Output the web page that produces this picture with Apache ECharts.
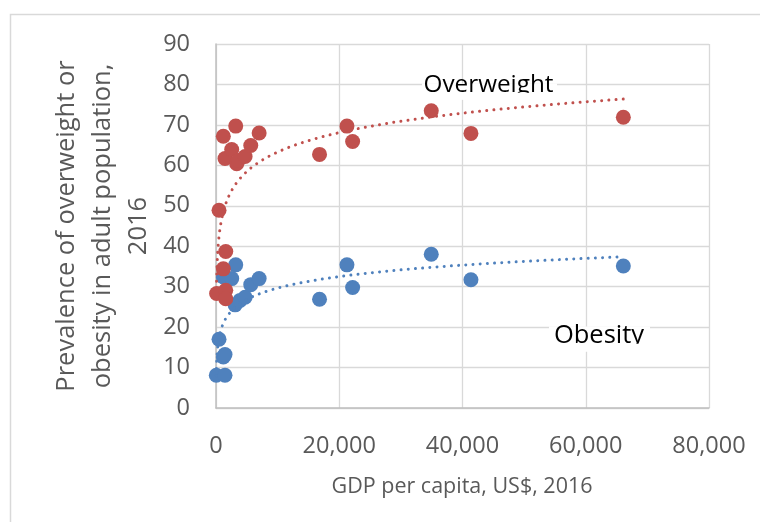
<!DOCTYPE html>
<html><head><meta charset="utf-8">
<script src="https://cdn.jsdelivr.net/npm/echarts@6/dist/echarts.min.js"></script>
<style>html,body{margin:0;padding:0;background:#fff}#c{width:760px;height:522px}</style>
</head><body><div id="c"></div><script>
// GDP per capita (US$, 2016) and prevalence (%)
const gdpOverweight = [100, 490, 1190, 1190, 1460, 1580, 1580, 1580, 2550, 3200, 3360, 3630, 4720, 5640, 7000, 16800, 21250, 22170, 34930, 41370, 66100];
const overweight    = [28.3, 48.9, 67.2, 34.4, 61.7, 38.7, 29.1, 27.0, 63.9, 69.7, 60.4, 61.2, 62.2, 64.9, 68.0, 62.7, 69.7, 65.9, 73.5, 67.9, 71.9];
const gdpObesity    = [50, 490, 1190, 1190, 1460, 1460, 2550, 3100, 3200, 3900, 4720, 5640, 7000, 16800, 21250, 22170, 34930, 41370, 66100];
const obesity       = [8.1, 17.0, 32.4, 12.6, 13.2, 8.1, 32.0, 25.5, 35.4, 26.6, 27.4, 30.5, 32.0, 26.9, 35.4, 29.8, 38.0, 31.7, 35.1];
const xAxisMin = 0, xAxisMax = 80000, xAxisStep = 20000;
const yAxisMin = 0, yAxisMax = 90, yAxisStep = 10;
const labelOverweight = 'Overweight';
const labelObesity = 'Obesity';
const yTitle = 'Prevalence of overweight or\nobesity in adult population,\n2016';
const xTitle = 'GDP per capita, US$, 2016';

const RED = '#C0504D', BLUE = '#4F81BD';
const FONT = '"Open Sans", sans-serif';

function pairs(xs, ys) { return xs.map((x, i) => [x, ys[i]]); }
// Excel-style logarithmic trendline: y = a*ln(x) + b, least squares
function logTrend(xs, ys) {
  const n = xs.length;
  let sL = 0, sY = 0, sLL = 0, sLY = 0;
  for (let i = 0; i < n; i++) {
    const L = Math.log(xs[i]);
    sL += L; sY += ys[i]; sLL += L * L; sLY += L * ys[i];
  }
  const a = (n * sLY - sL * sY) / (n * sLL - sL * sL);
  const b = (sY - a * sL) / n;
  const lo = Math.min(...xs), hi = Math.max(...xs);
  const N = 400, out = [];
  for (let i = 0; i <= N; i++) {
    const x = lo * Math.pow(hi / lo, i / N);
    out.push([x, a * Math.log(x) + b]);
  }
  return out;
}

const chart = echarts.init(document.getElementById('c'), null, {renderer: 'canvas'});
const trendStyle = (c) => ({color: c, width: 3, type: [0.01, 7.2], cap: 'round'});

chart.setOption({
  animation: false,
  backgroundColor: '#fff',
  grid: {left: 216, right: 51, top: 44, bottom: 114, containLabel: false},
  xAxis: {
    type: 'value', min: xAxisMin, max: xAxisMax, interval: xAxisStep,
    axisLine: {show: true, onZero: false, lineStyle: {color: '#bfbfbf', width: 1.5}},
    axisTick: {show: false},
    splitLine: {show: true, lineStyle: {color: '#d9d9d9', width: 1.3}},
    axisLabel: {color: '#595959', fontFamily: FONT, fontSize: 23.5, margin: 26,
      formatter: v => v.toLocaleString('en-US')}
  },
  yAxis: {
    type: 'value', min: yAxisMin, max: yAxisMax, interval: yAxisStep,
    axisLine: {show: true, onZero: false, lineStyle: {color: '#bfbfbf', width: 1.5}},
    axisTick: {show: false},
    splitLine: {show: true, lineStyle: {color: '#d9d9d9', width: 1.3}},
    axisLabel: {color: '#595959', fontFamily: FONT, fontSize: 23.5, margin: 26}
  },
  series: [
    {type: 'scatter', name: 'Obesity', data: pairs(gdpObesity, obesity),
     symbol: 'circle', symbolSize: 15, itemStyle: {color: BLUE, opacity: 1}, z: 2},
    {type: 'scatter', name: 'Overweight', data: pairs(gdpOverweight, overweight),
     symbol: 'circle', symbolSize: 15, itemStyle: {color: RED, opacity: 1}, z: 3},
    {type: 'line', name: 'Overweight trend', data: logTrend(gdpOverweight, overweight),
     showSymbol: false, symbol: 'none', lineStyle: trendStyle(RED), z: 4, silent: true},
    {type: 'line', name: 'Obesity trend', data: logTrend(gdpObesity, obesity),
     showSymbol: false, symbol: 'none', lineStyle: trendStyle(BLUE), z: 4, silent: true}
  ],
  graphic: [
    {type: 'rect', shape: {x: 10.5, y: 14.5, width: 800, height: 600}, z: -10,
     style: {fill: null, stroke: '#d9d9d9', lineWidth: 1.5}},
    {type: 'text', x: 103, y: 226, rotation: Math.PI / 2, z: 10,
     style: {text: yTitle, fill: '#595959', font: '25.5px ' + FONT, lineHeight: 36,
       align: 'center', verticalAlign: 'middle'}},
    {type: 'text', x: 462, y: 487, z: 10,
     style: {text: xTitle, fill: '#595959', font: '21.5px ' + FONT,
       align: 'center', verticalAlign: 'middle'}},
    // label boxes (white background hides gridlines, bottom edge clips descenders)
    {type: 'rect', shape: {x: 422, y: 83.5, width: 135, height: 16}, z: 20, style: {fill: '#fff'}},
    {type: 'text', x: 488.5, y: 85, z: 21,
     style: {text: labelOverweight, fill: '#000', font: '24.3px ' + FONT, align: 'center', verticalAlign: 'middle'}},
    {type: 'rect', shape: {x: 422, y: 92.8, width: 135, height: 7}, z: 22, style: {fill: '#fff'}},
    {type: 'rect', shape: {x: 549, y: 326.5, width: 101, height: 24}, z: 20, style: {fill: '#fff'}},
    {type: 'text', x: 599, y: 336, z: 21,
     style: {text: labelObesity, fill: '#000', font: '25.5px ' + FONT, align: 'center', verticalAlign: 'middle'}},
    {type: 'rect', shape: {x: 549, y: 343.8, width: 101, height: 8}, z: 22, style: {fill: '#fff'}}
  ]
});
</script></body></html>
